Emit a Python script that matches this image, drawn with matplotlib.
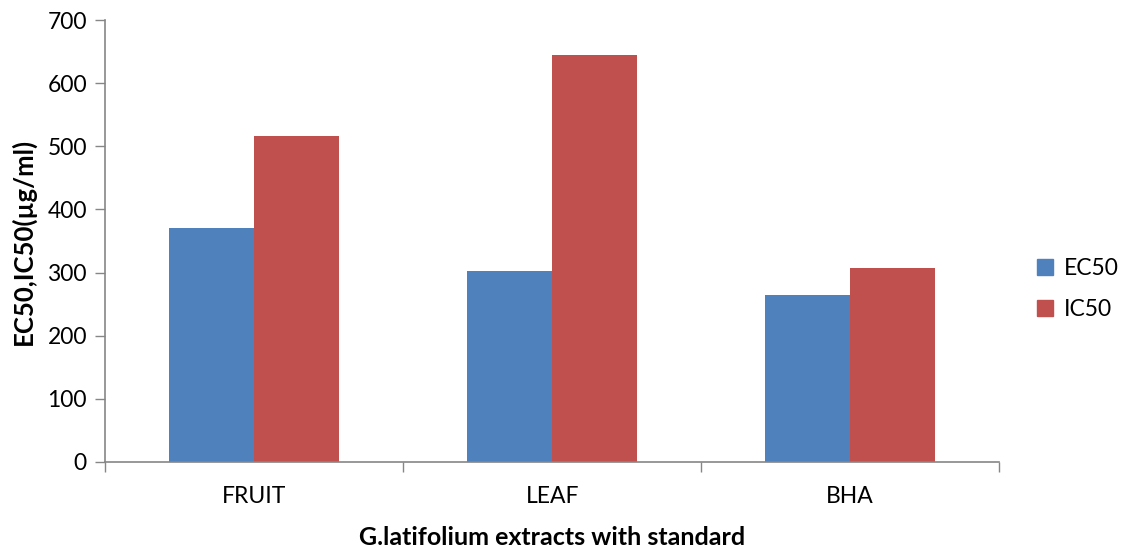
import numpy as np
import matplotlib
matplotlib.use("Agg")
import matplotlib.pyplot as plt
from matplotlib.patches import Patch

categories = ["FRUIT", "LEAF", "BHA"]
ec50 = [371, 303, 264]
ic50 = [517, 644, 307]
series_names = ["EC50", "IC50"]
yticks = [0, 100, 200, 300, 400, 500, 600, 700]

plt.rcParams["font.family"] = ["Lato", "DejaVu Sans"]

fig = plt.figure(figsize=(11.22, 5.5), dpi=100)
ax = fig.add_axes([0.0936, 0.16, 0.797, 0.8036])

x = np.arange(len(categories))
w = 0.285
blue, red = "#4F81BD", "#C0504D"
ax.bar(x - w / 2, ec50, width=w, color=blue, label=series_names[0])
ax.bar(x + w / 2, ic50, width=w, color=red, label=series_names[1])

ax.set_xlim(-0.5, len(categories) - 0.5)
ax.set_ylim(0, 700)
ax.set_yticks(yticks)
ax.set_yticklabels([str(t) for t in yticks], fontsize=16.5)

# category labels sit between the boundary ticks
ax.set_xticks(np.arange(len(categories) + 1) - 0.5)
ax.set_xticklabels([])
ax.set_xticks(x, minor=True)
ax.set_xticklabels(categories, minor=True, fontsize=16.5)
ax.tick_params(axis="x", which="minor", length=0, pad=17)
ax.tick_params(axis="x", which="major", length=7, color="#868686", width=1)
ax.tick_params(axis="y", length=7, color="#868686", width=1, pad=6)

for s in ["top", "right"]:
    ax.spines[s].set_visible(False)
for s in ["left", "bottom"]:
    ax.spines[s].set_color("#868686")
    ax.spines[s].set_linewidth(1.2)

ax.set_ylabel("EC50,IC50(µg/ml)", fontsize=18.5, fontweight="bold", labelpad=8)
ax.set_xlabel("G.latifolium extracts with standard", fontsize=18, fontweight="bold", labelpad=14)

handles = [Patch(color=blue), Patch(color=red)]
fig.legend(handles, series_names, loc="center left", bbox_to_anchor=(0.924, 0.4745),
           frameon=False, fontsize=16.5, handlelength=0.7, handleheight=0.7,
           labelspacing=0.85, handletextpad=0.5, borderpad=0, borderaxespad=0)

fig.savefig("out.png", dpi=100)
